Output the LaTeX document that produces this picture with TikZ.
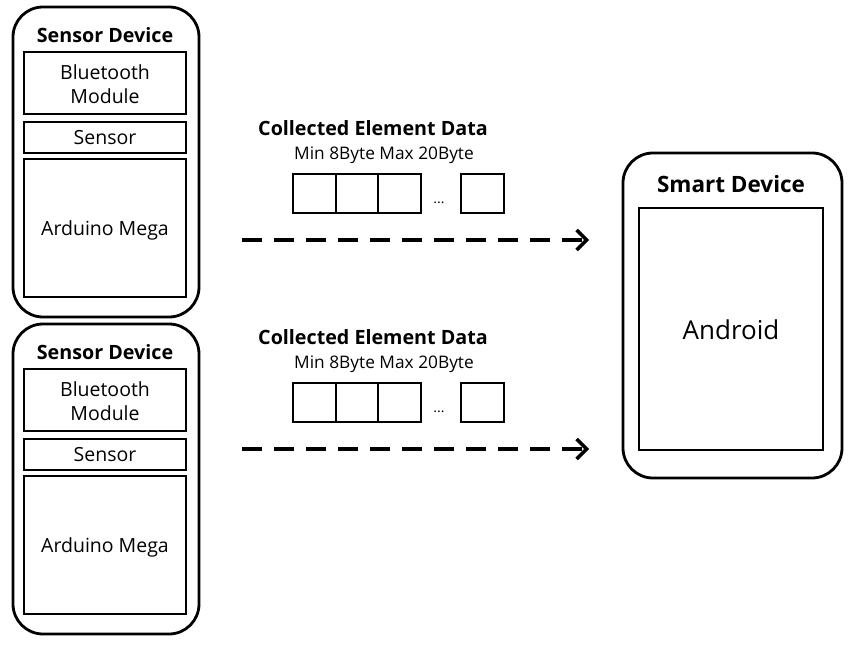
\documentclass[tikz,border=0pt]{standalone}
\usepackage{fontspec}
\setmainfont{Open Sans}
\usetikzlibrary{arrows.meta}
\begin{document}
\begin{tikzpicture}[x=1pt,y=-1pt,
  outerbox/.style={draw,line width=2.8pt,rounded corners=30pt},
  innerbox/.style={draw,line width=2.8pt},
  title/.style={font=\bfseries\fontsize{19.7}{23}\selectfont,inner sep=0pt},
  label/.style={font=\fontsize{19.5}{23.5}\selectfont,inner sep=0pt,align=center},
  cell/.style={draw,line width=2.8pt},
  flow/.style={line width=3.5pt,dash pattern=on 20pt off 12pt,-{Straight Barb[length=10pt,width=20pt]}},
]
\useasboundingbox (0,0) rectangle (854,647);
\foreach \dy/\i in {0/1,317/2}{
  \begin{scope}[yshift=-\dy pt]
  \draw[outerbox] (13,7) rectangle (199,317);
  \node[title] (sd\i) at (105,35) {Sensor Device};
  \draw[innerbox] (24,52) rectangle (186,114);
  \node[label] (bt\i) at (105,84) {Bluetooth\\Module};
  \draw[innerbox] (24,122) rectangle (186,153);
  \node[label] (se\i) at (105,138) {Sensor};
  \draw[innerbox] (24,159) rectangle (186,297);
  \node[label] (am\i) at (105,230) {Arduino Mega};
  \end{scope}
}
\foreach \dy/\i in {0/1,209/2}{
  \begin{scope}[yshift=-\dy pt]
  \node[title] (ce\i) at (373,128) {Collected Element Data};
  \node[font=\fontsize{17.3}{20}\selectfont,inner sep=0pt] (mm\i) at (384,155) {Min 8Byte Max 20Byte};
  \draw[cell] (293,174) rectangle (336,213);
  \draw[cell] (336,174) rectangle (378,213);
  \draw[cell] (378,174) rectangle (421,213);
  \node[font=\fontsize{14}{16}\selectfont,inner sep=0pt] (dots\i) at (439,203) {...};
  \draw[cell] (461,174) rectangle (504,213);
  \coordinate (s\i) at (242,240);
  \coordinate (e\i) at (589,240);
  \draw[flow] (s\i) -- (e\i);
  \end{scope}
}
\draw[outerbox] (623,153) rectangle (842,478);
\node[title,font=\bfseries\fontsize{22.5}{26}\selectfont] (smart) at (731,184) {Smart Device};
\draw[innerbox] (639,208) rectangle (823,450);
\node[label,font=\fontsize{26}{30}\selectfont] (android) at (731,330) {Android};
\end{tikzpicture}
\end{document}
